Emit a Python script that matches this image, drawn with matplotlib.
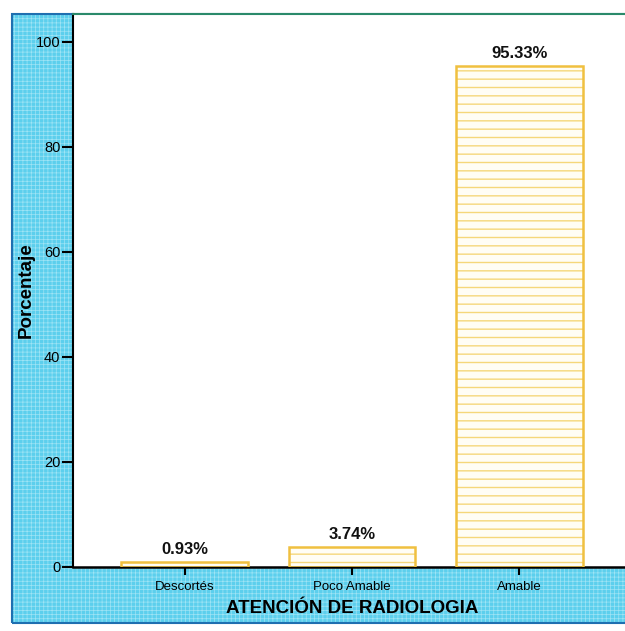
import matplotlib
matplotlib.use('Agg')
import matplotlib.pyplot as plt
from matplotlib.patches import Rectangle

categorias = ['Descortés', 'Poco Amable', 'Amable']
porcentajes = [0.93, 3.74, 95.33]
yticks = [0, 20, 40, 60, 80, 100]

plt.rcParams['font.family'] = ['Liberation Sans', 'DejaVu Sans']

W, H = 625, 631
fig = plt.figure(figsize=(W / 100, H / 100), dpi=100)
fig.patch.set_facecolor('white')

# cyan panel behind the plot: fine grid texture, then the dark blue border
plt.rcParams['hatch.linewidth'] = 0.5
panel = [(12 / W, 8 / H), 1.2, (617 - 8) / H]
fig.patches.append(Rectangle(*panel, transform=fig.transFigure, facecolor='#5ccfed',
                             edgecolor='#9fe4f5', linewidth=0, hatch='++++', zorder=0))
fig.patches.append(Rectangle(*panel, transform=fig.transFigure, facecolor='none',
                             edgecolor='#1f6fb0', linewidth=1.5, zorder=0))

ax = fig.add_axes([73 / W, (H - 567) / H, (631 - 73) / W, (567 - 14) / H])
ax.set_facecolor('white')
ax.set_zorder(1)

x = list(range(len(categorias)))
# striped fill, then the gold outline on top
with plt.rc_context({'hatch.linewidth': 1.0}):
    ax.bar(x, porcentajes, width=0.76, color='#fffdf4', edgecolor='#f5d77a',
           hatch='--', linewidth=0, zorder=2)
ax.bar(x, porcentajes, width=0.76, color='none', edgecolor='#f0c040',
       linewidth=1.8, zorder=3)

for xi, v in zip(x, porcentajes):
    ax.annotate(f'{v:.2f}%', (xi, v), textcoords='offset points', xytext=(0, 4),
                ha='center', va='bottom', fontsize=12, fontweight='bold', color='#111111')

ax.set_xlim(-0.67, 2.67)
ax.set_ylim(0, 105.3)
ax.set_yticks(yticks)
ax.set_xticks(x)
ax.set_xticklabels(categorias)
ax.tick_params(axis='y', length=8, width=1.5, labelsize=10.5, pad=1)
ax.tick_params(axis='x', length=6, width=1.5, labelsize=9.5, pad=4)

ax.spines['right'].set_visible(False)
ax.spines['top'].set_color('#2a8a6a')
ax.spines['top'].set_linewidth(1.5)
ax.spines['left'].set_linewidth(1.5)
ax.spines['bottom'].set_linewidth(1.8)

ax.set_xlabel('ATENCIÓN DE RADIOLOGIA', fontsize=13.5, fontweight='bold', labelpad=5)
ax.set_ylabel('Porcentaje', fontsize=13.5, fontweight='bold', labelpad=1)

fig.savefig('out.png', dpi=100)
